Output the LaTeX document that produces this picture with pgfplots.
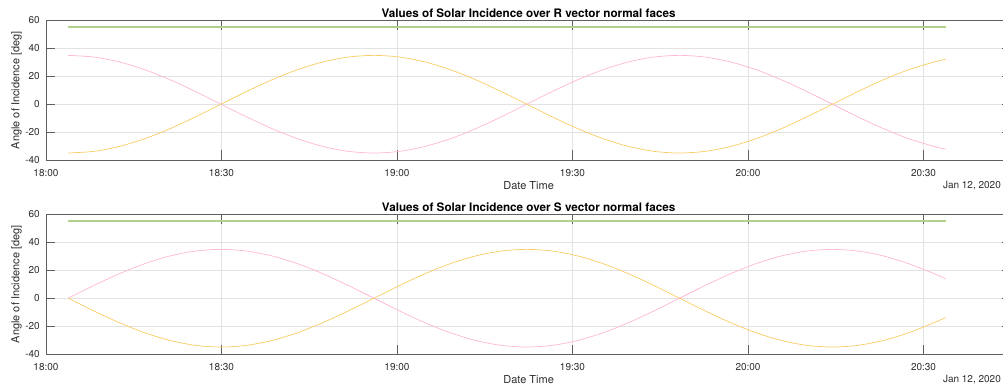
\documentclass[border=0pt]{standalone}
\usepackage{fontspec}
\setmainfont{TeX Gyre Heros}
\usepackage{pgfplots}
\usepackage{pgfplotstable}
\pgfplotsset{compat=1.18}

\definecolor{facepink}{RGB}{255,182,215}
\definecolor{faceyellow}{RGB}{248,204,98}
\definecolor{facelime}{RGB}{176,210,138}
\definecolor{axgray}{RGB}{95,95,95}
\definecolor{gridgray}{RGB}{226,226,226}
\definecolor{labelgray}{RGB}{45,45,45}

% time in minutes after 18:00; angles in degrees
\pgfplotstableread{
t       Rp       Ry       Sp       Sy      G
3.800   35.000  -35.000   0.000   0.000   55
8.154   33.807  -33.807   9.059  -9.059   55
12.508  30.311  -30.311  17.500 -17.500   55
16.863  24.749  -24.749  24.749 -24.749   55
21.217  17.500  -17.500  30.311 -30.311   55
25.571   9.059   -9.059  33.807 -33.807   55
29.925   0.000    0.000  35.000 -35.000   55
34.279  -9.059    9.059  33.807 -33.807   55
38.633 -17.500   17.500  30.311 -30.311   55
42.988 -24.749   24.749  24.749 -24.749   55
47.342 -30.311   30.311  17.500 -17.500   55
51.696 -33.807   33.807   9.059  -9.059   55
56.050 -35.000   35.000   0.000   0.000   55
60.404 -33.807   33.807  -9.059   9.059   55
64.758 -30.311   30.311 -17.500  17.500   55
69.113 -24.749   24.749 -24.749  24.749   55
73.467 -17.500   17.500 -30.311  30.311   55
77.821  -9.059    9.059 -33.807  33.807   55
82.175   0.000    0.000 -35.000  35.000   55
86.529   9.059   -9.059 -33.807  33.807   55
90.883  17.500  -17.500 -30.311  30.311   55
95.238  24.749  -24.749 -24.749  24.749   55
99.592  30.311  -30.311 -17.500  17.500   55
103.946 33.807  -33.807  -9.059   9.059   55
108.300 35.000  -35.000   0.000   0.000   55
112.654 33.807  -33.807   9.059  -9.059   55
117.008 30.311  -30.311  17.500 -17.500   55
121.363 24.749  -24.749  24.749 -24.749   55
125.717 17.500  -17.500  30.311 -30.311   55
130.071  9.059   -9.059  33.807 -33.807   55
134.425  0.000    0.000  35.000 -35.000   55
138.779 -9.059    9.059  33.807 -33.807   55
143.133 -17.500  17.500  30.311 -30.311   55
147.488 -24.749  24.749  24.749 -24.749   55
151.842 -30.311  30.311  17.500 -17.500   55
153.800 -32.146  32.146  13.844 -13.844   55
}\incidence

\pgfplotsset{
  panel/.style={
    scale only axis, width=965.25pt, height=139.5pt,
    anchor=south west, clip=false,
    xmin=0, xmax=165, ymin=-40, ymax=60,
    xtick={0,30,60,90,120,150},
    xticklabels={18:00,18:30,19:00,19:30,20:00,20:30},
    ytick={-40,-20,0,20,40,60},
    grid=major,
    major grid style={gridgray, line width=0.6pt},
    axis line style={axgray, line width=0.7pt},
    tick style={axgray, line width=0.7pt},
    major tick length=9.5pt,
    tick align=inside,
    /pgf/number format/assume math mode=true,
    ticklabel style={font=\fontsize{10}{12}\selectfont, text=labelgray},
    xticklabel style={anchor=center, yshift=-12.7pt},
    yticklabel style={anchor=east, inner sep=0pt, xshift=-6pt},
    xlabel={Date Time},
    ylabel={Angle of Incidence [deg]},
    xlabel style={at={(axis description cs:0.5,-0.184)}, anchor=center,
      font=\fontsize{11}{13}\selectfont, text=labelgray},
    ylabel style={at={(axis description cs:-0.0306,0.5)}, anchor=center,
      font=\fontsize{11}{13}\selectfont, text=labelgray},
    title style={at={(axis description cs:0.5,1)}, anchor=center,
      yshift=1.7pt, font=\bfseries\fontsize{11.7}{14}\selectfont},
  },
  facecurve/.style={line width=0.7pt, no markers, smooth},
  limecurve/.style={line width=2pt, no markers, draw=facelime},
}

\begin{document}
\begin{tikzpicture}
\path[use as bounding box] (0,0) rectangle (1003pt,391pt);

% R vector normal faces
\begin{axis}[panel, at={(46pt,231pt)},
  title={Values of Solar Incidence over R vector normal faces}]
  \addplot[facecurve, draw=facepink] table[x=t, y=Rp] {\incidence};
  \addplot[facecurve, draw=faceyellow] table[x=t, y=Ry] {\incidence};
  \addplot[limecurve] table[x=t, y=G] {\incidence};
  \node[anchor=east, inner sep=0pt, font=\fontsize{10}{12}\selectfont, text=labelgray]
    at (axis description cs:0.9894,-0.184) {Jan 12, 2020};
\end{axis}

% S vector normal faces
\begin{axis}[panel, at={(46pt,37pt)},
  title={Values of Solar Incidence over S vector normal faces}]
  \addplot[facecurve, draw=facepink] table[x=t, y=Sp] {\incidence};
  \addplot[facecurve, draw=faceyellow] table[x=t, y=Sy] {\incidence};
  \addplot[limecurve] table[x=t, y=G] {\incidence};
  \node[anchor=east, inner sep=0pt, font=\fontsize{10}{12}\selectfont, text=labelgray]
    at (axis description cs:0.9894,-0.184) {Jan 12, 2020};
\end{axis}
\end{tikzpicture}
\end{document}
